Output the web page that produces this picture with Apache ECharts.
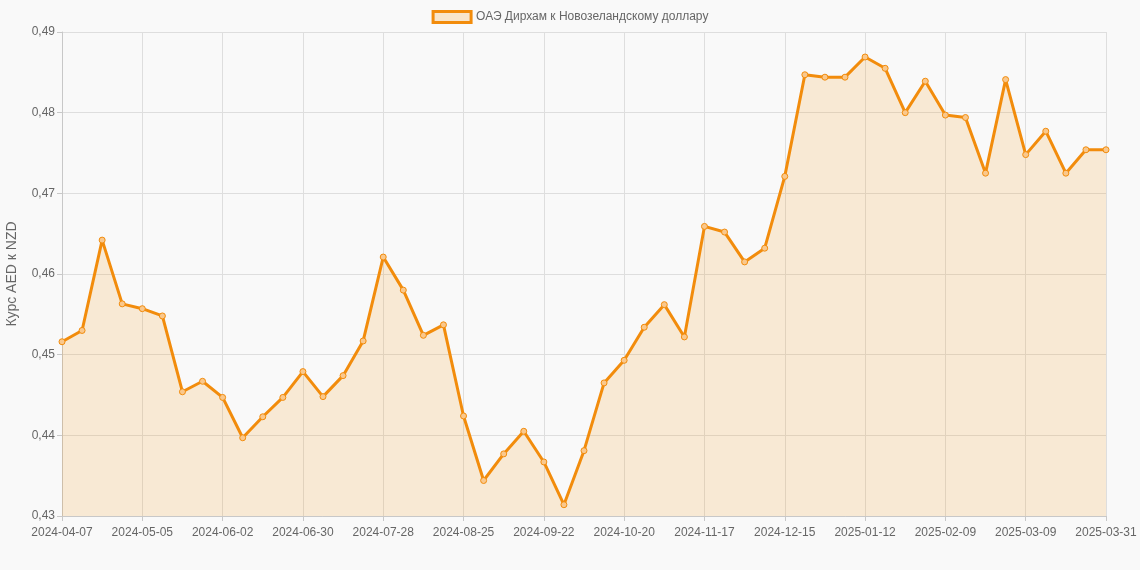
<!DOCTYPE html>
<html>
<head>
<meta charset="utf-8">
<script src="https://cdn.jsdelivr.net/npm/echarts@6/dist/echarts.min.js"></script>
<style>
html,body{margin:0;padding:0;background:#f9f9f9;}
#c{width:1140px;height:570px;}
</style>
</head>
<body>
<div id="c"></div>
<script>
const categories = [
 '2024-04-07','2024-04-14','2024-04-21','2024-04-28','2024-05-05','2024-05-12','2024-05-19','2024-05-26',
 '2024-06-02','2024-06-09','2024-06-16','2024-06-23','2024-06-30','2024-07-07','2024-07-14','2024-07-21',
 '2024-07-28','2024-08-04','2024-08-11','2024-08-18','2024-08-25','2024-09-01','2024-09-08','2024-09-15',
 '2024-09-22','2024-09-29','2024-10-06','2024-10-13','2024-10-20','2024-10-27','2024-11-03','2024-11-10',
 '2024-11-17','2024-11-24','2024-12-01','2024-12-08','2024-12-15','2024-12-22','2024-12-29','2025-01-05',
 '2025-01-12','2025-01-19','2025-01-26','2025-02-02','2025-02-09','2025-02-16','2025-02-23','2025-03-02',
 '2025-03-09','2025-03-16','2025-03-23','2025-03-30','2025-03-31'
];
const rates = [
 0.4516,0.4530,0.4642,0.4563,0.4557,0.4548,0.4454,0.4467,
 0.4447,0.4397,0.4423,0.4447,0.4479,0.4448,0.4474,0.4517,
 0.4621,0.4580,0.4524,0.4537,0.4424,0.4344,0.4377,0.4405,
 0.4367,0.4314,0.4381,0.4465,0.4493,0.4534,0.4562,0.4522,
 0.4659,0.4652,0.4615,0.4632,0.4721,0.4847,0.4844,0.4844,
 0.4869,0.4855,0.4800,0.4839,0.4797,0.4794,0.4725,0.4841,
 0.4748,0.4777,0.4725,0.4754,0.4754
];
const seriesName = 'ОАЭ Дирхам к Новозеландскому доллару';
const yAxisName = 'Курс AED к NZD';

const chart = echarts.init(document.getElementById('c'));
chart.setOption({
  backgroundColor: '#f9f9f9',
  textStyle: {fontFamily: 'Liberation Sans, Arial, sans-serif'},
  animation: false,
  legend: {
    top: 5,
    left: 'center',
    itemWidth: 38,
    itemHeight: 11,
    itemGap: 8,
    textStyle: {color: '#666', fontSize: 12},
    data: [{
      name: seriesName,
      icon: 'rect',
      itemStyle: {color: 'rgba(245,150,20,0.2)', borderColor: '#f28c0c', borderWidth: 3}
    }]
  },
  grid: {left: 62, right: 34, top: 32, bottom: 54, containLabel: false, outerBoundsMode: 'none'},
  xAxis: {
    type: 'category',
    data: categories,
    boundaryGap: false,
    axisLine: {lineStyle: {color: '#c8c8c8'}},
    axisTick: {show: true, interval: 3, length: 5, lineStyle: {color: '#c8c8c8'}},
    axisLabel: {interval: 3, color: '#666', fontSize: 12, margin: 11},
    splitLine: {show: true, interval: 3, lineStyle: {color: '#dedede'}}
  },
  yAxis: {
    type: 'value',
    min: 0.43,
    max: 0.49,
    interval: 0.01,
    name: yAxisName,
    nameLocation: 'middle',
    nameGap: 43,
    nameTextStyle: {color: '#666', fontSize: 14},
    axisLine: {show: true, lineStyle: {color: '#c8c8c8'}},
    axisTick: {show: true, length: 5, lineStyle: {color: '#c8c8c8'}},
    axisLabel: {color: '#666', fontSize: 12, margin: 7,
      formatter: v => v.toFixed(2).replace('.', ',')},
    splitLine: {lineStyle: {color: '#dedede'}}
  },
  series: [{
    name: seriesName,
    type: 'line',
    data: rates,
    symbol: 'circle',
    symbolSize: 6,
    showAllSymbol: true,
    lineStyle: {color: '#f28c0c', width: 3},
    itemStyle: {color: 'rgba(250,200,140,1)', borderColor: '#f28c0c', borderWidth: 1},
    areaStyle: {color: 'rgba(245,150,20,0.16)', opacity: 1, origin: 'start'}
  }]
});
</script>
</body>
</html>
